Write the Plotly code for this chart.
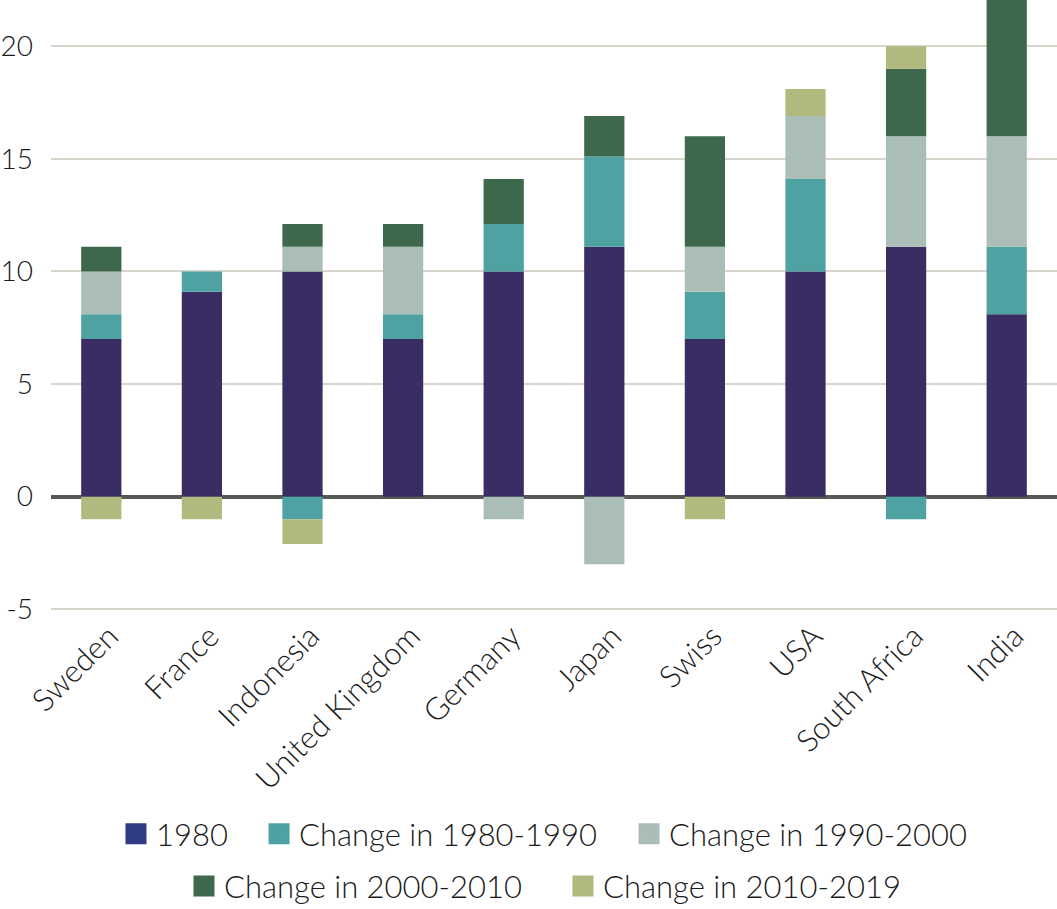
import plotly.graph_objects as go

countries = ["Sweden", "France", "Indonesia", "United Kingdom", "Germany",
             "Japan", "Swiss", "USA", "South Africa", "India"]
v_1980 = [7.0, 9.1, 10.0, 7.0, 10.0, 11.1, 7.0, 10.0, 11.1, 8.1]
chg_1980_1990 = [1.1, 0.9, -1.0, 1.1, 2.1, 4.0, 2.1, 4.1, -1.0, 3.0]
chg_1990_2000 = [1.9, 0.0, 1.1, 3.0, -1.0, -3.0, 2.0, 2.8, 4.9, 4.9]
chg_2000_2010 = [1.1, 0.0, 1.0, 1.0, 2.0, 1.8, 4.9, 0.0, 3.0, 6.5]
chg_2010_2019 = [-1.0, -1.0, -1.1, 0.0, 0.0, 0.0, -1.0, 1.2, 1.0, 0.0]

series_names = ["1980", "Change in 1980-1990", "Change in 1990-2000",
                "Change in 2000-2010", "Change in 2010-2019"]
y_ticks = [-5, 0, 5, 10, 15, 20]
y_ticktext = ["-5", "0", "5", "10", "15", "20"]

bar_colors = ["#3a2d63", "#4ea2a2", "#abbdb7", "#3e684c", "#b1ba7e"]
legend_colors = ["#2f3c84", "#4ea2a2", "#abbdb7", "#3e684c", "#b1ba7e"]

# one legend box per entry so the two rows can be spaced like the original
legend_ids = ["legend", "legend2", "legend3", "legend4", "legend5"]
legend_x = [0.0646, 0.2068, 0.5746, 0.1322, 0.5089]
legend_y = [-0.354, -0.354, -0.354, -0.439, -0.439]

FONT = "Lato"

fig = go.Figure()
all_series = [v_1980, chg_1980_1990, chg_1990_2000, chg_2000_2010, chg_2010_2019]
for name, vals, col in zip(series_names, all_series, bar_colors):
    fig.add_trace(go.Bar(x=countries, y=vals, name=name, marker_color=col,
                         marker_line_width=0, showlegend=False))

# legend-only entries (bigger square swatches)
for name, col, lg in zip(series_names, legend_colors, legend_ids):
    fig.add_trace(go.Scatter(x=[None], y=[None], mode="markers", name=name,
                             legend=lg,
                             marker=dict(symbol="square", size=16, color=col,
                                         line=dict(color=col, width=5))))

legends = {}
for lg, lx, ly in zip(legend_ids, legend_x, legend_y):
    legends[lg] = dict(orientation="h", x=lx, xanchor="left", y=ly,
                       yanchor="middle", itemsizing="trace",
                       font=dict(family=FONT, size=31, weight=300))

fig.update_layout(
    width=1057, height=909,
    barmode="relative", bargap=0.6,
    plot_bgcolor="white", paper_bgcolor="white",
    margin=dict(l=51, r=0, t=0, b=292.5, autoexpand=False),
    font=dict(family=FONT, size=30, color="#1a1a1a", weight=300),
    **legends
)
fig.update_xaxes(tickangle=-45, showgrid=False, showline=False,
                 automargin=False, ticklabelstandoff=-5, ticklabelshift=8,
                 tickfont=dict(family=FONT, size=31, weight=300))
fig.update_yaxes(range=[-5.3, 22.05], tickvals=y_ticks, ticktext=y_ticktext,
                 showgrid=True, gridcolor="#d9d5cd", gridwidth=2,
                 zeroline=True, zerolinecolor="#555a55", zerolinewidth=4,
                 automargin=False, ticklabelstandoff=17,
                 tickfont=dict(family=FONT, size=28, weight=300))

# page body has a default 8px margin; drop it so the figure sits at 0,0
fig.write_html("out.html", config={"displayModeBar": False},
               post_script="document.body.style.margin = '0';")
